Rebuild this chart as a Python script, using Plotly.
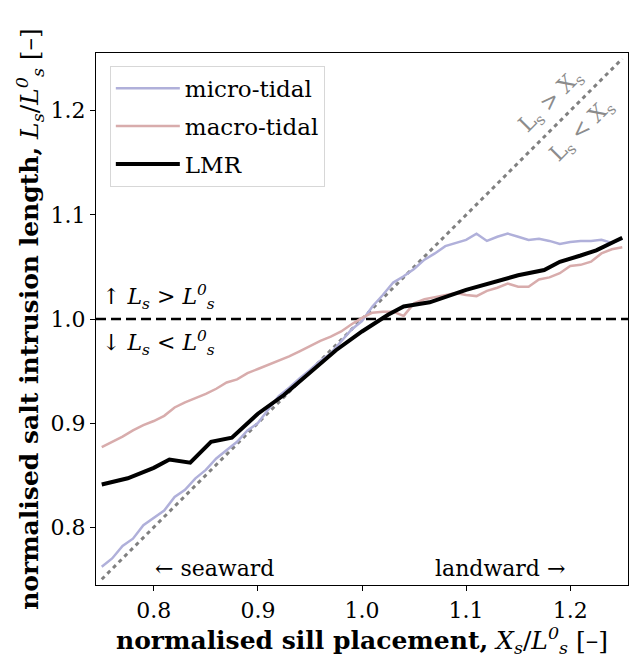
import plotly.graph_objects as go

# ---- data ----
micro_x = [0.75, 0.76, 0.77, 0.78, 0.79, 0.80, 0.81, 0.82, 0.83, 0.84, 0.85, 0.86, 0.87,
           0.88, 0.89, 0.90, 0.91, 0.92, 0.93, 0.94, 0.95, 0.96, 0.97, 0.98, 0.99, 1.00,
           1.01, 1.02, 1.03, 1.04, 1.05, 1.06, 1.07, 1.08, 1.09, 1.10, 1.11, 1.12, 1.13,
           1.14, 1.15, 1.16, 1.17, 1.18, 1.19, 1.20, 1.21, 1.22, 1.23, 1.24, 1.25]
micro_y = [0.762, 0.770, 0.782, 0.789, 0.802, 0.809, 0.816, 0.829, 0.836, 0.847, 0.855, 0.866,
           0.874, 0.882, 0.893, 0.900, 0.913, 0.926, 0.934, 0.943, 0.951, 0.960, 0.967, 0.978,
           0.990, 0.998, 1.012, 1.023, 1.035, 1.041, 1.048, 1.057, 1.063, 1.070, 1.073, 1.076,
           1.082, 1.075, 1.079, 1.082, 1.079, 1.076, 1.077, 1.075, 1.072, 1.074, 1.075, 1.075,
           1.076, 1.073, 1.077]

macro_x = micro_x
macro_y = [0.877, 0.882, 0.887, 0.893, 0.898, 0.902, 0.907, 0.915, 0.920, 0.924, 0.928, 0.933,
           0.939, 0.942, 0.948, 0.952, 0.956, 0.960, 0.964, 0.969, 0.974, 0.979, 0.983, 0.988,
           0.995, 1.001, 1.006, 1.007, 1.007, 1.003, 1.015, 1.019, 1.021, 1.023, 1.025, 1.023,
           1.022, 1.027, 1.030, 1.034, 1.031, 1.031, 1.038, 1.040, 1.044, 1.051, 1.052, 1.055,
           1.063, 1.067, 1.069]

lmr_x = [0.75, 0.775, 0.80, 0.815, 0.835, 0.855, 0.875, 0.90, 0.925, 0.95, 0.975, 1.00,
         1.025, 1.04, 1.065, 1.10, 1.125, 1.15, 1.175, 1.19, 1.21, 1.225, 1.25]
lmr_y = [0.841, 0.847, 0.857, 0.865, 0.862, 0.882, 0.886, 0.909, 0.927, 0.948, 0.970, 0.988,
         1.004, 1.012, 1.016, 1.028, 1.035, 1.042, 1.047, 1.055, 1.061, 1.066, 1.078]

diag = [0.75, 1.25]
ref_level = 1.0

x_ticks = [0.8, 0.9, 1.0, 1.1, 1.2]
y_ticks = [0.8, 0.9, 1.0, 1.1, 1.2]
x_range = [0.7445, 1.2555]
y_range = [0.7445, 1.2555]

FONT = "DejaVu Serif"
micro_col = "rgb(176,176,218)"
macro_col = "rgb(216,172,172)"

fig = go.Figure()
fig.add_trace(go.Scatter(x=diag, y=diag, mode="lines", showlegend=False,
                         line=dict(color="rgb(128,128,128)", width=3, dash="4px,4px")))
fig.add_trace(go.Scatter(x=x_range, y=[ref_level, ref_level], mode="lines", showlegend=False,
                         line=dict(color="black", width=2.5, dash="10px,5px")))
fig.add_trace(go.Scatter(x=micro_x, y=micro_y, mode="lines", name="micro-tidal",
                         legendgroup="a", line=dict(color=micro_col, width=2.5)))
fig.add_trace(go.Scatter(x=macro_x, y=macro_y, mode="lines", name="macro-tidal",
                         legendgroup="b", line=dict(color=macro_col, width=2.5)))
fig.add_trace(go.Scatter(x=lmr_x, y=lmr_y, mode="lines", name="LMR",
                         legendgroup="c", line=dict(color="black", width=4)))

ann_font = dict(family=FONT, size=22, color="black")
gray_font = dict(family=FONT, size=22, color="rgb(140,140,140)")
annotations = [
    dict(x=0.748, y=1.021, text="↑ <i>L<sub>s</sub></i> > <i>L<sup>0</sup><sub>s</sub></i>",
         xanchor="left", yanchor="middle", font=ann_font),
    dict(x=0.748, y=0.977, text="↓ <i>L<sub>s</sub></i> < <i>L<sup>0</sup><sub>s</sub></i>",
         xanchor="left", yanchor="middle", font=ann_font),
    dict(x=0.858, y=0.7606, text="← seaward", xanchor="center", yanchor="middle", font=ann_font),
    dict(x=1.133, y=0.7606, text="landward →", xanchor="center", yanchor="middle", font=ann_font),
    dict(x=1.182, y=1.209, text="L<sub>s</sub> > X<sub>s</sub>", textangle=-45,
         xanchor="center", yanchor="middle", font=gray_font),
    dict(x=1.212, y=1.181, text="L<sub>s</sub> < X<sub>s</sub>", textangle=-45,
         xanchor="center", yanchor="middle", font=gray_font),
]
for a in annotations:
    a.update(xref="x", yref="y", showarrow=False)

axis_common = dict(showline=True, linecolor="black", linewidth=1.2, mirror=True,
                   ticks="outside", ticklen=5, tickcolor="black", tickwidth=1,
                   showgrid=False, zeroline=False, automargin=False,
                   tickfont=dict(family=FONT, size=22, color="black"))

fig.update_layout(
    width=629, height=662,
    margin=dict(l=96, r=1, t=53, b=77),
    paper_bgcolor="white", plot_bgcolor="white",
    font=dict(family=FONT, color="black"),
    xaxis=dict(range=x_range, tickvals=x_ticks, ticktext=[f"{v:.1f}" for v in x_ticks],
               title=dict(text="<b>normalised sill placement,</b> <i>X<sub>s</sub></i>/<i>L<sup>0</sup><sub>s</sub></i> [–]",
                          font=dict(family=FONT, size=25), standoff=4),
               **axis_common),
    yaxis=dict(range=y_range, tickvals=y_ticks, ticktext=[f"{v:.1f}" for v in y_ticks],
               title=dict(text="<b>normalised salt intrusion length,</b> <i>L<sub>s</sub></i>/<i>L<sup>0</sup><sub>s</sub></i> [–]",
                          font=dict(family=FONT, size=25), standoff=4),
               **axis_common),
    legend=dict(x=0.026, y=0.976, xanchor="left", yanchor="top",
                bgcolor="white", bordercolor="rgb(215,215,215)", borderwidth=1,
                font=dict(family=FONT, size=23), tracegroupgap=5, itemwidth=64),
    annotations=annotations,
)

fig.write_html("out.html", config={"displayModeBar": False},
               post_script="document.body.style.margin='0';document.body.style.overflow='hidden';")
